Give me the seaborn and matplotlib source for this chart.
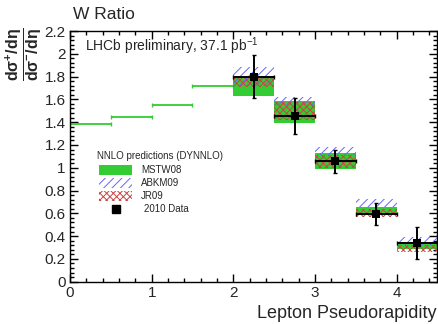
import numpy as np
import pandas as pd
import matplotlib
matplotlib.use("Agg")
import matplotlib.pyplot as plt
from matplotlib.ticker import MultipleLocator, FormatStrFormatter
from matplotlib.patches import Rectangle
import seaborn as sns

# ---------------- data ----------------
# theory-only bins (no data)
theo_lo_edges = [0.0, 0.5, 1.0, 1.5]
theo_hi_edges = [0.5, 1.0, 1.5, 2.0]
theo_values = [1.385, 1.445, 1.555, 1.715]

# measured bins
bin_lo = [2.0, 2.5, 3.0, 3.5, 4.0]
bin_hi = [2.5, 3.0, 3.5, 4.0, 4.5]
data_values = [1.80, 1.453, 1.056, 0.594, 0.342]
data_err = [0.19, 0.157, 0.102, 0.098, 0.139]

mstw_lo = [1.632, 1.395, 0.986, 0.600, 0.287]
mstw_hi = [1.800, 1.585, 1.126, 0.658, 0.351]
abkm_lo = [1.720, 1.550, 1.110, 0.653, 0.322]
abkm_hi = [1.880, 1.620, 1.180, 0.723, 0.390]
jr_lo = [1.710, 1.420, 1.000, 0.570, 0.263]
jr_hi = [1.800, 1.580, 1.110, 0.635, 0.322]

legend_labels = ["MSTW08", "ABKM09", "JR09", "2010 Data"]
x_ticks = [0, 1, 2, 3, 4]

# ---------------- style ----------------
sns.set_style("ticks")
plt.rcParams["font.family"] = ["Liberation Sans", "DejaVu Sans"]
plt.rcParams["mathtext.fontset"] = "custom"
plt.rcParams["mathtext.rm"] = "Liberation Sans"
plt.rcParams["mathtext.it"] = "Liberation Sans:italic"
plt.rcParams["mathtext.bf"] = "Liberation Sans:bold"
plt.rcParams["hatch.linewidth"] = 0.7

GREEN = "#33cc33"
BLUE = "#6666ff"
RED = "#cc4444"
HATCH_B = "////"
HATCH_R = "xxxxx"

W, H = 439, 324
fig = plt.figure(figsize=(W / 100, H / 100), dpi=100)
AX_L, AX_R, AX_T, AX_B = 70, 437.5, 31, 281.7
ax = fig.add_axes([AX_L / W, 1 - AX_B / H, (AX_R - AX_L) / W, (AX_B - AX_T) / H])

df = pd.DataFrame({
    "lo": bin_lo, "hi": bin_hi, "val": data_values, "err": data_err,
})
df["ctr"] = (df["lo"] + df["hi"]) / 2
df["w"] = df["hi"] - df["lo"]

# theory lines for bins without data
tc = (np.array(theo_lo_edges) + np.array(theo_hi_edges)) / 2
tw = (np.array(theo_hi_edges) - np.array(theo_lo_edges)) / 2
ax.errorbar(tc, theo_values, xerr=tw, fmt="none", ecolor=GREEN, elinewidth=1.3,
            capsize=1.5, capthick=1.0, zorder=2)

# bands
ax.bar(df["ctr"], np.array(mstw_hi) - np.array(mstw_lo), bottom=mstw_lo, width=df["w"],
       color=GREEN, edgecolor="none", linewidth=0, zorder=2)
ax.bar(df["ctr"], np.array(abkm_hi) - np.array(abkm_lo), bottom=abkm_lo, width=df["w"],
       facecolor="none", edgecolor=BLUE, hatch=HATCH_B, linewidth=0, zorder=3)
ax.bar(df["ctr"], np.array(jr_hi) - np.array(jr_lo), bottom=jr_lo, width=df["w"],
       facecolor="none", edgecolor=RED, hatch=HATCH_R, linewidth=0, zorder=3)

# data
ax.errorbar(df["ctr"], df["val"], xerr=df["w"] / 2, yerr=df["err"], fmt="none",
            ecolor="black", elinewidth=1.4, capsize=1.5, capthick=1.0, zorder=4)
sns.scatterplot(data=df, x="ctr", y="val", marker="s", color="black", s=38,
                edgecolor="black", linewidth=0, ax=ax, zorder=5, legend=False)

# axes
ax.set_xlim(0, 4.5)
ax.set_ylim(0, 2.2)
ax.set_xticks(x_ticks)
ax.xaxis.set_minor_locator(MultipleLocator(0.2))
ax.yaxis.set_major_locator(MultipleLocator(0.2))
ax.yaxis.set_minor_locator(MultipleLocator(0.04))
ax.yaxis.set_major_formatter(FormatStrFormatter("%g"))
ax.set_xlabel("")
ax.set_ylabel("")
for s in ax.spines.values():
    s.set_linewidth(1.0)
    s.set_color("black")
    s.set_visible(True)
ax.tick_params(which="both", direction="in", top=True, right=True, color="black", width=1.0)
ax.tick_params(which="major", length=6, labelsize=11, pad=3)
ax.tick_params(which="minor", length=3)

# texts
fig.text(73 / W, 1 - 14.5 / H, "W Ratio", ha="left", va="center", fontsize=12.5)
ax.text(0.041, 0.94, r"LHCb preliminary, 37.1 pb$^{-1}$", transform=ax.transAxes,
        ha="left", va="center", fontsize=10)
fig.text(437 / W, 1 - 313 / H, "Lepton Pseudorapidity", ha="right", va="center", fontsize=13)
fig.text(24 / W, 1 - 54 / H,
         r"$\mathbf{\dfrac{d\sigma^{+}/d\eta}{d\sigma^{-}/d\eta}}$",
         rotation=90, ha="center", va="center", fontsize=11.5)

# manual legend (pixel positions -> axes fraction)
def ax_xy(px, py):
    return (px - AX_L) / (AX_R - AX_L), (AX_B - py) / (AX_B - AX_T)

def box(px0, py0, px1, py1, **kw):
    x0, y0 = ax_xy(px0, py1)
    x1, y1 = ax_xy(px1, py0)
    ax.add_patch(Rectangle((x0, y0), x1 - x0, y1 - y0, transform=ax.transAxes,
                           clip_on=False, zorder=6, **kw))

hx, hy = ax_xy(97, 156)
ax.text(hx, hy, "NNLO predictions (DYNNLO)", transform=ax.transAxes,
        ha="left", va="center", fontsize=7)
box(99, 165, 132, 175, facecolor=GREEN, edgecolor="none", linewidth=0)
box(99, 178, 132, 188, facecolor="none", edgecolor=BLUE, hatch=HATCH_B, linewidth=0)
box(99, 191, 132, 201, facecolor="none", edgecolor=RED, hatch=HATCH_R, linewidth=0)
mx, my = ax_xy(116, 209)
ax.plot([mx], [my], marker="s", color="black", markersize=6, linestyle="none",
        transform=ax.transAxes, clip_on=False, zorder=6)
for (px, py), lab in zip([(141, 170), (141, 183), (141, 196), (144, 209)], legend_labels):
    tx, ty = ax_xy(px, py)
    ax.text(tx, ty, lab, transform=ax.transAxes, ha="left", va="center", fontsize=7)

fig.savefig("out.png", dpi=100)
